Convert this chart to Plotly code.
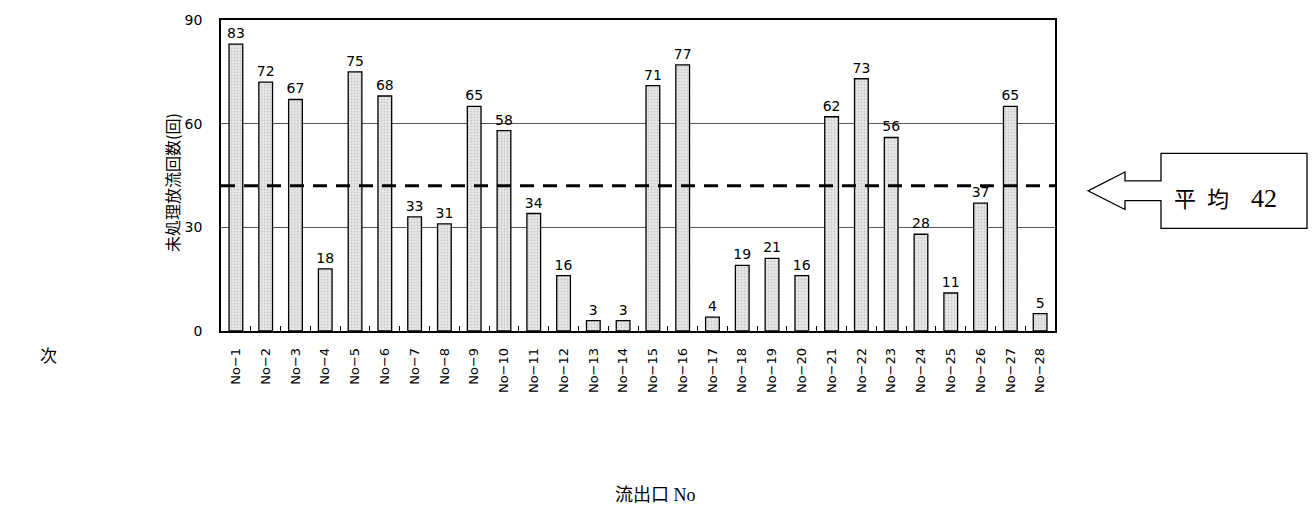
import plotly.graph_objects as go

# Outfall numbers and untreated discharge counts
outlets = [f"No\u2212{i}" for i in range(1, 29)]
counts = [83, 72, 67, 18, 75, 68, 33, 31, 65, 58, 34, 16, 3, 3,
          71, 77, 4, 19, 21, 16, 62, 73, 56, 28, 11, 37, 65, 5]
average = 42

y_ticks = [0, 30, 60, 90]

W, H = 1314, 512
L, R, T, B = 221, 1055, 16, 331

num_font = "DejaVu Sans, Liberation Sans, Arial"
serif = "Liberation Serif, Noto Sans CJK JP"


def px(x):
    return (x - L) / (R - L)


def py(y):
    return (B - y) / (B - T)


fig = go.Figure()
fig.add_trace(go.Bar(
    x=outlets,
    y=counts,
    text=[str(v) for v in counts],
    textposition="outside",
    constraintext="none",
    textfont=dict(family=num_font, size=14, color="#000"),
    cliponaxis=False,
    marker=dict(
        color="#e6e6e6",
        line=dict(color="#000", width=1.3),
        pattern=dict(shape=".", fgcolor="#a8a8a8", bgcolor="#e8e8e8",
                     size=3, solidity=0.3),
    ),
    width=0.46,
    showlegend=False,
))

# Average line
fig.add_shape(type="line", xref="paper", yref="y", x0=0, x1=1,
              y0=average, y1=average,
              line=dict(color="#000", width=3, dash="14px,9px"))

# Callout arrow pointing at the average line
path = (f"M {px(1088)},{py(189)} L {px(1125)},{py(170)} L {px(1125)},{py(179)} "
        f"L {px(1161)},{py(179)} L {px(1161)},{py(151)} L {px(1307)},{py(151)} "
        f"L {px(1307)},{py(227)} L {px(1161)},{py(227)} L {px(1161)},{py(199)} "
        f"L {px(1125)},{py(199)} L {px(1125)},{py(208)} Z")
fig.add_shape(type="path", xref="paper", yref="paper", path=path,
              fillcolor="#fff", line=dict(color="#000", width=1.3), layer="above")


def label(x, y, text, size, family, angle=0):
    fig.add_annotation(xref="paper", yref="paper", x=px(x), y=py(y),
                       xanchor="center", yanchor="middle",
                       text=text, textangle=angle, showarrow=False,
                       font=dict(family=family, size=size, color="#000"))


label(1225, 197,
      f"平\u2002均\u2003<span style=\"font-size:26px;font-family:'Liberation Serif'\">{average}</span>",
      22, serif)
label(172, 181, "未処理放流回数(回)", 16, "Noto Sans CJK JP", angle=-90)
label(655, 497, "流出口 No", 18, serif)
label(48, 357, "次", 17, serif)

fig.update_layout(
    width=W, height=H,
    margin=dict(l=L, r=W - R, t=T, b=H - B, pad=0),
    paper_bgcolor="#fff", plot_bgcolor="#fff",
    font=dict(family=num_font, color="#000"),
)
fig.update_xaxes(
    type="category",
    tickangle=-90,
    tickfont=dict(family=num_font, size=13, color="#000"),
    ticks="inside", tickson="boundaries", ticklen=5, tickcolor="#000", tickwidth=1,
    ticklabelstandoff=10,
    showline=True, linecolor="#000", linewidth=1.5, mirror=True,
    showgrid=False,
)
fig.update_yaxes(
    range=[0, 90], tickvals=y_ticks, ticktext=[str(v) for v in y_ticks],
    tickfont=dict(family=num_font, size=14, color="#000"),
    ticks="", ticklabelstandoff=14,
    showline=True, linecolor="#000", linewidth=1.5, mirror=True,
    showgrid=True, gridcolor="#555", gridwidth=1,
    zeroline=False,
)

fig.write_html("out.html")
